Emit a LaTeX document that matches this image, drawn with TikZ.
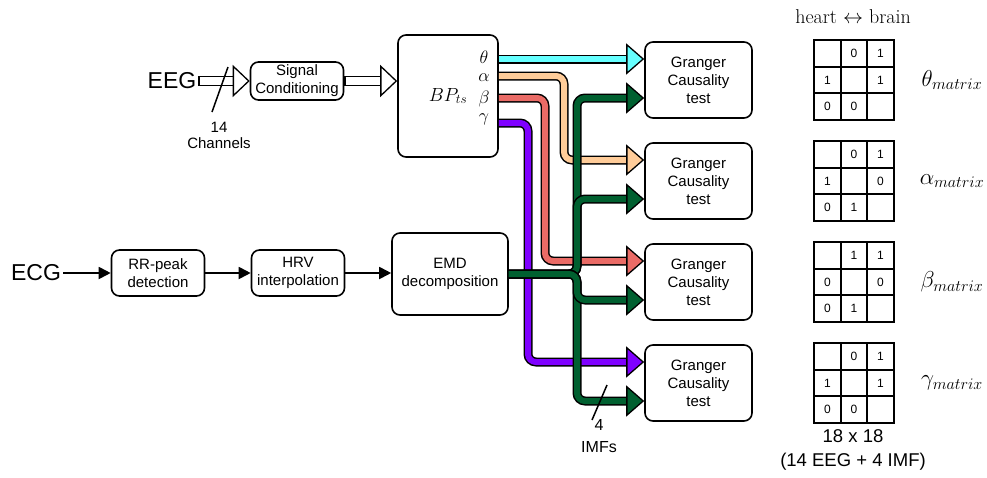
\RequirePackage{fix-cm}
\documentclass[tikz,border=0pt]{standalone}
\usepackage{fontspec}
\setsansfont{Liberation Sans}
\renewcommand{\familydefault}{\sfdefault}
\usetikzlibrary{arrows.meta,matrix}
\definecolor{cyanc}{RGB}{102,255,255}
\definecolor{orangec}{RGB}{255,204,153}
\definecolor{redc}{RGB}{234,107,102}
\definecolor{purplec}{RGB}{127,0,255}
\definecolor{greenc}{RGB}{0,96,48}
\newcommand\fatarr[3]{%
  \draw[line width=9pt, black, rounded corners=8pt, shorten >=14pt] #2;
  \draw[line width=6pt, #1, rounded corners=8pt, shorten >=14pt] #2;
  \draw[line width=1.3pt, black, -{Triangle[length=18pt,width=31pt,fill=#1]}] ([xshift=-1pt]#3) -- (#3);}
\newcommand\hollowarr[2]{%
  \draw[line width=10pt, black, shorten >=13pt] (#1) -- (#2);
  \draw[line width=7.4pt, white, shorten >=13pt, shorten <=1.3pt] (#1) -- (#2);
  \draw[line width=1.3pt, black, -{Triangle[length=17pt,width=32pt,fill=white]}] ([xshift=-1pt]#2) -- (#2);}
\begin{document}
\begin{tikzpicture}[x=1pt,y=-1pt,
  box/.style={draw, line width=1.6pt, rounded corners=8pt, align=center,
    font=\fontsize{15}{18}\selectfont, inner sep=0pt},
  txt/.style={align=center, font=\fontsize{15}{16}\selectfont},
  big/.style={font=\fontsize{23}{25}\selectfont, inner sep=2pt},
  thinarr/.style={line width=1.8pt, -{Triangle[length=12pt,width=12pt]}},
  mat/.style={matrix of nodes, nodes in empty cells,
    nodes={draw, line width=2pt, minimum size=26.5pt, inner sep=0pt, outer sep=0pt,
      anchor=center, font=\fontsize{12}{12}\selectfont},
    column sep=-2pt, row sep=-2pt},
  mlab/.style={font=\fontsize{23}{25}\selectfont},
  greek/.style={font=\fontsize{18}{20}\selectfont, inner sep=0pt}]
\useasboundingbox (0,0) rectangle (987,477);

% ---- EEG branch
\node[big] (eeg) at (172,81) {EEG};
\node[box, minimum width=93pt, minimum height=38pt] (sc) at (297,81) {Signal\\Conditioning};
\node[box, minimum width=100pt, minimum height=122pt, font=\fontsize{19}{21}\selectfont] (bp) at (448,96) {$BP_{ts}$};
\node[greek] (lth) at (484,57) {$\theta$};
\node[greek] (lal) at (484,78) {$\alpha$};
\node[greek] (lbe) at (484,99) {$\beta$};
\node[greek] (lga) at (484,119) {$\gamma$};
\node[txt] (ch) at (219,135) {14\\Channels};

\coordinate (eegout) at (eeg.east);
\coordinate (scin) at (sc.west);
\coordinate (scout) at (sc.east);
\coordinate (bpin) at (bp.west |- sc.east);
\hollowarr{eegout}{scin}
\hollowarr{scout}{bpin}
\draw[line width=1.5pt] (212,112) -- (228,67);

% ---- ECG branch
\node[big] (ecg) at (36,273) {ECG};
\node[box, minimum width=93pt, minimum height=46pt] (rr) at (158,273) {RR-peak\\detection};
\node[box, minimum width=93pt, minimum height=46pt] (hrv) at (298,273) {HRV\\interpolation};
\node[box, minimum width=116pt, minimum height=82pt] (emd) at (450,274) {EMD\\decomposition};
\draw[thinarr] (ecg.east) -- (rr.west);
\draw[thinarr] (rr.east) -- (hrv.west);
\draw[thinarr] (hrv.east) -- (hrv.east -| emd.west);

% ---- Granger boxes
\node[box, minimum width=107pt, minimum height=76pt] (g1) at (698.5,80) {Granger\\Causality\\test};
\node[box, minimum width=107pt, minimum height=76pt] (g2) at (698.5,181) {Granger\\Causality\\test};
\node[box, minimum width=107pt, minimum height=76pt] (g3) at (698.5,282) {Granger\\Causality\\test};
\node[box, minimum width=107pt, minimum height=76pt] (g4) at (698.5,383) {Granger\\Causality\\test};

\coordinate (s1) at (bp.east |- 0,59);
\coordinate (s2) at (bp.east |- 0,76);
\coordinate (s3) at (bp.east |- 0,98);
\coordinate (s4) at (bp.east |- 0,123);
\coordinate (t1a) at (g1.west |- 0,59);
\coordinate (t1b) at (g1.west |- 0,98);
\coordinate (t2a) at (g2.west |- 0,160);
\coordinate (t2b) at (g2.west |- 0,199);
\coordinate (t3a) at (g3.west |- 0,261);
\coordinate (t3b) at (g3.west |- 0,300);
\coordinate (t4a) at (g4.west |- 0,362);
\coordinate (t4b) at (g4.west |- 0,401);
\coordinate (e0) at (emd.east);

\fatarr{cyanc}{(s1) -- (t1a)}{t1a}
\fatarr{orangec}{(s2) -- (564,76) |- (t2a)}{t2a}
\fatarr{redc}{(s3) -- (545,98) |- (t3a)}{t3a}
\fatarr{purplec}{(s4) -- (528,123) |- (t4a)}{t4a}
\fatarr{greenc}{(e0) -- (577,274) |- (t1b)}{t1b}
\fatarr{greenc}{(e0) -- (577,274) |- (t2b)}{t2b}
\fatarr{greenc}{(e0) -- (577,274) |- (t4b)}{t4b}
\fatarr{greenc}{(e0) -- (577,274) |- (t3b)}{t3b}

\draw[line width=1.5pt] (592,420) -- (607,385);
\node[align=center, font=\fontsize{16}{22}\selectfont] (imf) at (599,436) {4\\IMFs};

% ---- matrices
\node[font=\rmfamily\fontsize{20}{22}\selectfont] (hb) at (853,17) {heart $\leftrightarrow$ brain};
\matrix (mth) [mat] at (854,80) { & 0 & 1\\ 1 & & 1\\ 0 & 0 & \\};
\matrix (mal) [mat] at (854,181) { & 0 & 1\\ 1 & & 0\\ 0 & 1 & \\};
\matrix (mbe) [mat] at (854,282) { & 1 & 1\\ 0 & & 0\\ 0 & 1 & \\};
\matrix (mga) [mat] at (854,383) { & 0 & 1\\ 1 & & 1\\ 0 & 0 & \\};
\node[mlab] (lmth) at (952,80) {$\theta_{matrix}$};
\node[mlab] (lmal) at (952,181) {$\alpha_{matrix}$};
\node[mlab] (lmbe) at (952,282) {$\beta_{matrix}$};
\node[mlab] (lmga) at (952,383) {$\gamma_{matrix}$};
\node[align=center, font=\fontsize{18.5}{24}\selectfont] (dim) at (853,450) {18 x 18\\(14 EEG + 4 IMF)};
\end{tikzpicture}
\end{document}
